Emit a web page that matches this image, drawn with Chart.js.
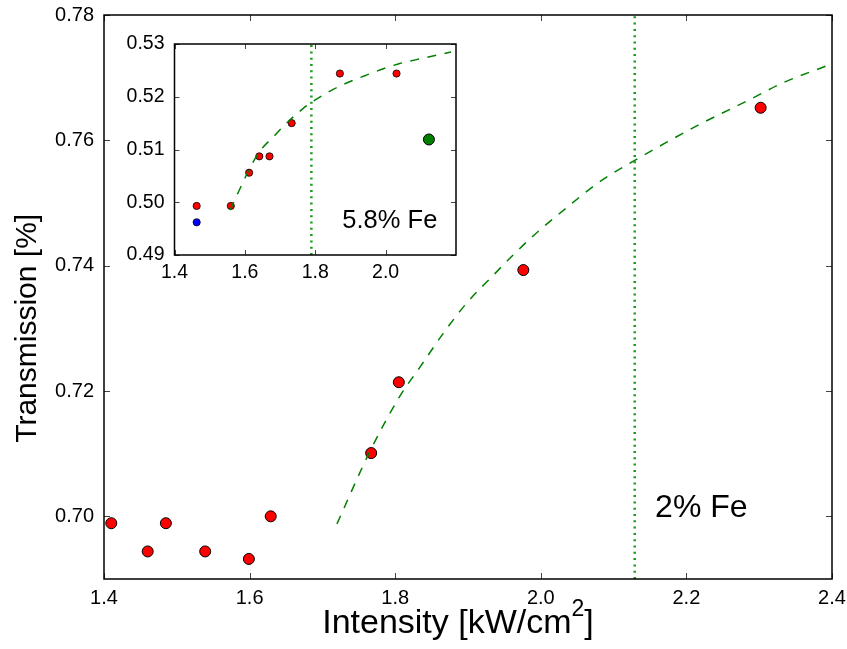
<!DOCTYPE html>
<html>
<head>
<meta charset="utf-8">
<script src="https://cdn.jsdelivr.net/npm/chart.js@4.4.0/dist/chart.umd.min.js"></script>
<style>
html,body{margin:0;padding:0;background:#fff;}
#wrap{position:relative;width:847px;height:649px;overflow:hidden;}
#main{position:absolute;left:0;top:0;width:847px;height:649px;}
#inset{position:absolute;left:110px;top:30px;width:360px;height:265px;}
</style>
</head>
<body>
<div id="wrap">
<canvas id="main" width="847" height="649"></canvas>
<canvas id="inset" width="360" height="265"></canvas>
</div>
<script>
// ---------- data ----------
const mainXTicks = [1.4, 1.6, 1.8, 2.0, 2.2, 2.4];
const mainYTicks = [0.70, 0.72, 0.74, 0.76, 0.78];
const mainXRange = [1.4, 2.4];
const mainYRange = [0.690, 0.780];

const mainIntensity    = [1.410, 1.460, 1.485, 1.539, 1.599, 1.629, 1.767, 1.805, 1.976, 2.302];
const mainTransmission = [0.6989, 0.6944, 0.6989, 0.6944, 0.6932, 0.7000, 0.7101, 0.7214, 0.7393, 0.7652];

const mainFitIntensity    = [1.720, 1.765, 1.806, 1.834, 1.866, 1.898, 1.935, 1.962, 1.989, 2.035, 2.081, 2.129, 2.173, 2.219, 2.287, 2.333, 2.400];
const mainFitTransmission = [0.6988, 0.7103, 0.7191, 0.7238, 0.7292, 0.7340, 0.7385, 0.7417, 0.7447, 0.7492, 0.7534, 0.7568, 0.7597, 0.7626, 0.7665, 0.7692, 0.7722];

const mainThreshold = 2.129;
const mainLabel = '2% Fe';

const insetXTicks = [1.4, 1.6, 1.8, 2.0];
const insetYTicks = [0.49, 0.50, 0.51, 0.52, 0.53];
const insetXRange = [1.4, 2.2];
const insetYRange = [0.49, 0.53];

const insetRedIntensity    = [1.463, 1.560, 1.612, 1.641, 1.670, 1.733, 1.870, 2.031];
const insetRedTransmission = [0.4993, 0.4993, 0.5056, 0.5087, 0.5087, 0.5150, 0.5244, 0.5244];
const insetBlueIntensity    = [1.463];
const insetBlueTransmission = [0.4962];
const insetGreenIntensity    = [2.123];
const insetGreenTransmission = [0.5119];

const insetFitIntensity    = [1.558, 1.616, 1.643, 1.685, 1.709, 1.766, 1.789, 1.851, 1.945, 2.040, 2.106, 2.186];
const insetFitTransmission = [0.4985, 0.5067, 0.5097, 0.5127, 0.5144, 0.5178, 0.5189, 0.5214, 0.5241, 0.5263, 0.5273, 0.5285];

const insetThreshold = 1.789;
const insetLabel = '5.8% Fe';

const xTitleParts = ['Intensity [kW/cm', '2', ']'];   // "2" is a superscript
const yTitle = 'Transmission [%]';

// ---------- helpers ----------
const FONT = "'Liberation Sans', Arial, Helvetica, sans-serif";
function pts(xs, ys) { return xs.map((x, i) => ({x: x, y: ys[i]})); }
function noOverflow(s) { s.paddingTop = 0; s.paddingBottom = 0; s.paddingLeft = 0; s.paddingRight = 0; }

const frameTicks = {
  id: 'frameTicks',
  afterDatasetsDraw(chart, args, o) {
    const {ctx, chartArea: a, scales} = chart;
    ctx.save();
    ctx.strokeStyle = o.tickColor;
    ctx.lineWidth = o.tickWidth;
    ctx.beginPath();
    scales.x.ticks.forEach(t => {
      const px = Math.round(scales.x.getPixelForValue(t.value)) + 0.5;
      ctx.moveTo(px, a.bottom); ctx.lineTo(px, a.bottom - o.len);
      ctx.moveTo(px, a.top); ctx.lineTo(px, a.top + o.len);
    });
    scales.y.ticks.forEach(t => {
      const py = Math.round(scales.y.getPixelForValue(t.value)) + 0.5;
      ctx.moveTo(a.left, py); ctx.lineTo(a.left + o.len, py);
      ctx.moveTo(a.right, py); ctx.lineTo(a.right - o.len, py);
    });
    ctx.stroke();
    ctx.strokeStyle = '#000';
    ctx.lineWidth = o.frameWidth;
    ctx.strokeRect(a.left, a.top, a.right - a.left, a.bottom - a.top);
    ctx.restore();
  }
};

const textMarks = {
  id: 'textMarks',
  afterDraw(chart, args, o) {
    const {ctx, scales, chartArea: a} = chart;
    (o.items || []).forEach(it => {
      ctx.save();
      ctx.font = it.font;
      ctx.fillStyle = '#000';
      ctx.textBaseline = 'alphabetic';
      if (it.rotate) {
        ctx.textAlign = 'center';
        ctx.translate(it.px, scales.y.getPixelForValue(it.y));
        ctx.rotate(-Math.PI / 2);
        ctx.fillText(it.text, 0, 0);
      } else {
        ctx.textAlign = 'left';
        ctx.fillText(it.text, scales.x.getPixelForValue(it.x), scales.y.getPixelForValue(it.y));
      }
      ctx.restore();
    });
    const st = o.supTitle;
    if (st) {
      ctx.save();
      ctx.fillStyle = '#000';
      ctx.textBaseline = 'alphabetic';
      ctx.textAlign = 'left';
      const fBig = st.size + 'px ' + FONT, fSup = st.supSize + 'px ' + FONT;
      ctx.font = fBig; const w0 = ctx.measureText(st.parts[0]).width, w2 = ctx.measureText(st.parts[2]).width;
      ctx.font = fSup; const w1 = ctx.measureText(st.parts[1]).width;
      let x = (a.left + a.right) / 2 + st.dx - (w0 + w1 + w2) / 2;
      const y = st.baseline;
      ctx.font = fBig; ctx.fillText(st.parts[0], x, y); x += w0;
      ctx.font = fSup; ctx.fillText(st.parts[1], x, y - st.raise); x += w1;
      ctx.font = fBig; ctx.fillText(st.parts[2], x, y);
      ctx.restore();
    }
  }
};

const DASHED = '#008000';
const DOTTED = '#1a9a1a';

// ---------- main chart ----------
new Chart(document.getElementById('main'), {
  type: 'line',
  data: {
    datasets: [
      {
        data: pts(mainFitIntensity, mainFitTransmission),
        showLine: true, borderColor: DASHED, borderWidth: 1.5, borderDash: [9, 8.5],
        pointRadius: 0, cubicInterpolationMode: 'monotone', fill: false, order: 0
      },
      {
        data: pts(mainIntensity, mainTransmission),
        showLine: false, pointRadius: 5.5, pointBackgroundColor: '#ff0000',
        pointBorderColor: '#000', pointBorderWidth: 1, order: 1
      },
      {
        data: [{x: mainThreshold, y: mainYRange[0]}, {x: mainThreshold, y: mainYRange[1]}],
        showLine: true, borderColor: DOTTED, borderWidth: 2.5, borderDash: [2, 4.3],
        pointRadius: 0, fill: false, order: 2
      }
    ]
  },
  options: {
    responsive: false, animation: false, devicePixelRatio: 1, events: [],
    layout: {padding: {left: 0, right: 15, top: 15, bottom: 0}},
    plugins: {
      legend: {display: false}, tooltip: {enabled: false},
      frameTicks: {len: 6, tickColor: '#444', tickWidth: 1, frameWidth: 1.5},
      textMarks: {
        items: [
          {text: mainLabel, x: 2.157, y: 0.6999, font: '32px ' + FONT},
          {text: yTitle, rotate: true, px: 36, y: 0.7300, font: '30px ' + FONT}
        ],
        supTitle: {parts: xTitleParts, size: 34, supSize: 23, raise: 17, baseline: 633, dx: -10}
      }
    },
    scales: {
      x: {
        type: 'linear', min: mainXRange[0], max: mainXRange[1],
        afterBuildTicks: s => { s.ticks = mainXTicks.map(v => ({value: v})); },
        ticks: {callback: v => Number(v).toFixed(1), font: {family: FONT, size: 20}, color: '#000', padding: 7, maxRotation: 0, autoSkip: false},
        grid: {display: false, drawTicks: false}, border: {display: false},
        afterFit: s => { s.height = 70; noOverflow(s); }
      },
      y: {
        type: 'linear', min: mainYRange[0], max: mainYRange[1],
        afterBuildTicks: s => { s.ticks = mainYTicks.map(v => ({value: v})); },
        ticks: {callback: v => Number(v).toFixed(2), font: {family: FONT, size: 20}, color: '#000', padding: 10, autoSkip: false},
        grid: {display: false, drawTicks: false}, border: {display: false},
        afterFit: s => { s.width = 104; noOverflow(s); }
      }
    }
  },
  plugins: [frameTicks, textMarks]
});

// ---------- inset chart ----------
new Chart(document.getElementById('inset'), {
  type: 'line',
  data: {
    datasets: [
      {
        data: pts(insetFitIntensity, insetFitTransmission),
        showLine: true, borderColor: DASHED, borderWidth: 1.5, borderDash: [9, 8.5],
        pointRadius: 0, cubicInterpolationMode: 'monotone', fill: false, order: 0
      },
      {
        data: pts(insetRedIntensity, insetRedTransmission),
        showLine: false, pointRadius: 3.6, pointBackgroundColor: '#ff0000',
        pointBorderColor: '#000', pointBorderWidth: 0.8, order: 1
      },
      {
        data: pts(insetBlueIntensity, insetBlueTransmission),
        showLine: false, pointRadius: 3.6, pointBackgroundColor: '#0000ff',
        pointBorderColor: '#000', pointBorderWidth: 0.8, order: 1
      },
      {
        data: pts(insetGreenIntensity, insetGreenTransmission),
        showLine: false, pointRadius: 5.5, pointBackgroundColor: '#008000',
        pointBorderColor: '#000', pointBorderWidth: 1, order: 1
      },
      {
        data: [{x: insetThreshold, y: insetYRange[0]}, {x: insetThreshold, y: insetYRange[1]}],
        showLine: true, borderColor: DOTTED, borderWidth: 2.5, borderDash: [2, 4.3],
        pointRadius: 0, fill: false, order: 2
      }
    ]
  },
  options: {
    responsive: false, animation: false, devicePixelRatio: 1, events: [],
    layout: {padding: {left: 0, right: 14, top: 14, bottom: 0}},
    plugins: {
      legend: {display: false}, tooltip: {enabled: false},
      frameTicks: {len: 5, tickColor: '#444', tickWidth: 1, frameWidth: 1.5},
      textMarks: {items: [
        {text: insetLabel, x: 1.877, y: 0.4951, font: '25.5px ' + FONT}
      ]}
    },
    scales: {
      x: {
        type: 'linear', min: insetXRange[0], max: insetXRange[1],
        afterBuildTicks: s => { s.ticks = insetXTicks.map(v => ({value: v})); },
        ticks: {callback: v => Number(v).toFixed(1), font: {family: FONT, size: 19.5}, color: '#000', padding: 6, maxRotation: 0, autoSkip: false},
        grid: {display: false, drawTicks: false}, border: {display: false},
        afterFit: s => { s.height = 40; noOverflow(s); }
      },
      y: {
        type: 'linear', min: insetYRange[0], max: insetYRange[1],
        afterBuildTicks: s => { s.ticks = insetYTicks.map(v => ({value: v})); },
        ticks: {callback: v => Number(v).toFixed(2), font: {family: FONT, size: 19.5}, color: '#000', padding: 10, autoSkip: false},
        grid: {display: false, drawTicks: false}, border: {display: false},
        afterFit: s => { s.width = 64.5; noOverflow(s); }
      }
    }
  },
  plugins: [frameTicks, textMarks]
});
</script>
</body>
</html>
